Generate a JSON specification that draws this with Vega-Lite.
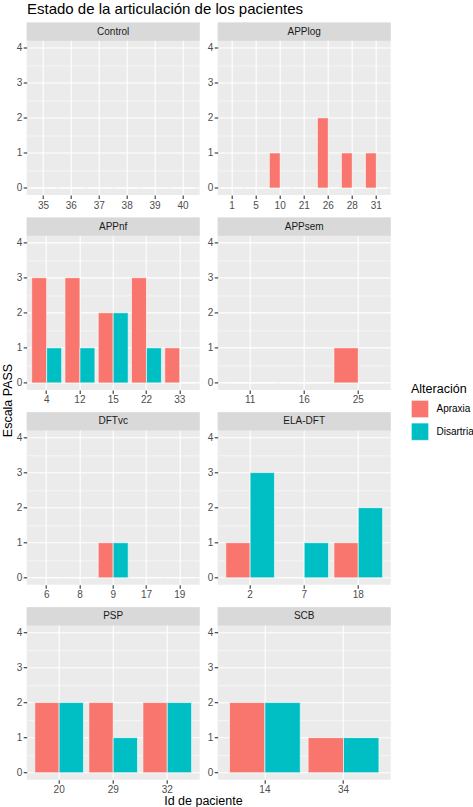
{
  "$schema": "https://vega.github.io/schema/vega-lite/v6.json",
  "padding": {"left": 2, "top": 1.5, "right": 0, "bottom": 0},
  "background": "white",
  "title": {
    "text": "Estado de la articulación de los pacientes",
    "anchor": "start",
    "frame": "group",
    "dx": 25,
    "offset": -6.8,
    "baseline": "alphabetic",
    "fontSize": 15,
    "fontWeight": "normal",
    "color": "black"
  },
  "datasets": {
    "pass": [
      {"grupo": "Control", "id": 35, "alteracion": "Apraxia", "valor": 0},
      {"grupo": "Control", "id": 35, "alteracion": "Disartria", "valor": 0},
      {"grupo": "Control", "id": 36, "alteracion": "Apraxia", "valor": 0},
      {"grupo": "Control", "id": 36, "alteracion": "Disartria", "valor": 0},
      {"grupo": "Control", "id": 37, "alteracion": "Apraxia", "valor": 0},
      {"grupo": "Control", "id": 37, "alteracion": "Disartria", "valor": 0},
      {"grupo": "Control", "id": 38, "alteracion": "Apraxia", "valor": 0},
      {"grupo": "Control", "id": 38, "alteracion": "Disartria", "valor": 0},
      {"grupo": "Control", "id": 39, "alteracion": "Apraxia", "valor": 0},
      {"grupo": "Control", "id": 39, "alteracion": "Disartria", "valor": 0},
      {"grupo": "Control", "id": 40, "alteracion": "Apraxia", "valor": 0},
      {"grupo": "Control", "id": 40, "alteracion": "Disartria", "valor": 0},
      {"grupo": "APPlog", "id": 1, "alteracion": "Apraxia", "valor": 0},
      {"grupo": "APPlog", "id": 1, "alteracion": "Disartria", "valor": 0},
      {"grupo": "APPlog", "id": 5, "alteracion": "Apraxia", "valor": 0},
      {"grupo": "APPlog", "id": 5, "alteracion": "Disartria", "valor": 0},
      {"grupo": "APPlog", "id": 10, "alteracion": "Apraxia", "valor": 1},
      {"grupo": "APPlog", "id": 10, "alteracion": "Disartria", "valor": 0},
      {"grupo": "APPlog", "id": 21, "alteracion": "Apraxia", "valor": 0},
      {"grupo": "APPlog", "id": 21, "alteracion": "Disartria", "valor": 0},
      {"grupo": "APPlog", "id": 26, "alteracion": "Apraxia", "valor": 2},
      {"grupo": "APPlog", "id": 26, "alteracion": "Disartria", "valor": 0},
      {"grupo": "APPlog", "id": 28, "alteracion": "Apraxia", "valor": 1},
      {"grupo": "APPlog", "id": 28, "alteracion": "Disartria", "valor": 0},
      {"grupo": "APPlog", "id": 31, "alteracion": "Apraxia", "valor": 1},
      {"grupo": "APPlog", "id": 31, "alteracion": "Disartria", "valor": 0},
      {"grupo": "APPnf", "id": 4, "alteracion": "Apraxia", "valor": 3},
      {"grupo": "APPnf", "id": 4, "alteracion": "Disartria", "valor": 1},
      {"grupo": "APPnf", "id": 12, "alteracion": "Apraxia", "valor": 3},
      {"grupo": "APPnf", "id": 12, "alteracion": "Disartria", "valor": 1},
      {"grupo": "APPnf", "id": 15, "alteracion": "Apraxia", "valor": 2},
      {"grupo": "APPnf", "id": 15, "alteracion": "Disartria", "valor": 2},
      {"grupo": "APPnf", "id": 22, "alteracion": "Apraxia", "valor": 3},
      {"grupo": "APPnf", "id": 22, "alteracion": "Disartria", "valor": 1},
      {"grupo": "APPnf", "id": 33, "alteracion": "Apraxia", "valor": 1},
      {"grupo": "APPnf", "id": 33, "alteracion": "Disartria", "valor": 0},
      {"grupo": "APPsem", "id": 11, "alteracion": "Apraxia", "valor": 0},
      {"grupo": "APPsem", "id": 11, "alteracion": "Disartria", "valor": 0},
      {"grupo": "APPsem", "id": 16, "alteracion": "Apraxia", "valor": 0},
      {"grupo": "APPsem", "id": 16, "alteracion": "Disartria", "valor": 0},
      {"grupo": "APPsem", "id": 25, "alteracion": "Apraxia", "valor": 1},
      {"grupo": "APPsem", "id": 25, "alteracion": "Disartria", "valor": 0},
      {"grupo": "DFTvc", "id": 6, "alteracion": "Apraxia", "valor": 0},
      {"grupo": "DFTvc", "id": 6, "alteracion": "Disartria", "valor": 0},
      {"grupo": "DFTvc", "id": 8, "alteracion": "Apraxia", "valor": 0},
      {"grupo": "DFTvc", "id": 8, "alteracion": "Disartria", "valor": 0},
      {"grupo": "DFTvc", "id": 9, "alteracion": "Apraxia", "valor": 1},
      {"grupo": "DFTvc", "id": 9, "alteracion": "Disartria", "valor": 1},
      {"grupo": "DFTvc", "id": 17, "alteracion": "Apraxia", "valor": 0},
      {"grupo": "DFTvc", "id": 17, "alteracion": "Disartria", "valor": 0},
      {"grupo": "DFTvc", "id": 19, "alteracion": "Apraxia", "valor": 0},
      {"grupo": "DFTvc", "id": 19, "alteracion": "Disartria", "valor": 0},
      {"grupo": "ELA-DFT", "id": 2, "alteracion": "Apraxia", "valor": 1},
      {"grupo": "ELA-DFT", "id": 2, "alteracion": "Disartria", "valor": 3},
      {"grupo": "ELA-DFT", "id": 7, "alteracion": "Apraxia", "valor": 0},
      {"grupo": "ELA-DFT", "id": 7, "alteracion": "Disartria", "valor": 1},
      {"grupo": "ELA-DFT", "id": 18, "alteracion": "Apraxia", "valor": 1},
      {"grupo": "ELA-DFT", "id": 18, "alteracion": "Disartria", "valor": 2},
      {"grupo": "PSP", "id": 20, "alteracion": "Apraxia", "valor": 2},
      {"grupo": "PSP", "id": 20, "alteracion": "Disartria", "valor": 2},
      {"grupo": "PSP", "id": 29, "alteracion": "Apraxia", "valor": 2},
      {"grupo": "PSP", "id": 29, "alteracion": "Disartria", "valor": 1},
      {"grupo": "PSP", "id": 32, "alteracion": "Apraxia", "valor": 2},
      {"grupo": "PSP", "id": 32, "alteracion": "Disartria", "valor": 2},
      {"grupo": "SCB", "id": 14, "alteracion": "Apraxia", "valor": 2},
      {"grupo": "SCB", "id": 14, "alteracion": "Disartria", "valor": 2},
      {"grupo": "SCB", "id": 34, "alteracion": "Apraxia", "valor": 1},
      {"grupo": "SCB", "id": 34, "alteracion": "Disartria", "valor": 1}
    ]
  },
  "data": {"name": "pass"},
  "spacing": 12.7,
  "bounds": "flush",
  "hconcat": [
    {
      "data": {"values": [{"t": "Escala PASS"}]},
      "width": 12,
      "height": 756,
      "view": {"stroke": null, "fill": null},
      "mark": {"type": "text", "angle": 270, "fontSize": 12.5, "color": "black", "align": "center", "baseline": "middle"},
      "encoding": {"text": {"field": "t", "type": "nominal"}}
    },
    {
      "title": {
        "text": "Id de paciente",
        "orient": "bottom",
        "anchor": "middle",
        "offset": 0,
        "fontSize": 12.5,
        "fontWeight": "normal",
        "color": "black"
      },
      "facet": {
        "field": "grupo",
        "type": "nominal",
        "sort": ["Control", "APPlog", "APPnf", "APPsem", "DFTvc", "ELA-DFT", "PSP", "SCB"],
        "header": {"labels": false, "title": null, "labelFontSize": 0, "labelPadding": 0, "labelExpr": "''"}
      },
      "columns": 2,
      "spacing": {"column": 18, "row": 21.9},
      "bounds": "flush",
      "spec": {
        "width": 173,
        "height": 172.5,
        "view": {"fill": "#EBEBEB", "stroke": null},
        "layer": [
          {
            "mark": {"type": "bar", "stroke": "white", "strokeWidth": 0.6},
            "encoding": {
              "x": {
                "field": "id",
                "type": "ordinal",
                "scale": {"paddingInner": 0, "paddingOuter": 0.1},
                "axis": {"title": null}
              },
              "xOffset": {
                "field": "alteracion",
                "type": "nominal",
                "scale": {"domain": ["Apraxia", "Disartria"], "paddingInner": 0, "paddingOuter": 0.111}
              },
              "y": {
                "field": "valor",
                "type": "quantitative",
                "scale": {"domain": [-0.2, 4.72], "nice": false, "zero": false},
                "axis": {"title": null, "values": [0, 1, 2, 3, 4]}
              },
              "color": {
                "field": "alteracion",
                "type": "nominal",
                "scale": {"domain": ["Apraxia", "Disartria"], "range": ["#F8766D", "#00BFC4"]},
                "legend": {
                  "title": "Alteración",
                  "orient": "none",
                  "legendX": 409,
                  "legendY": 360,
                  "symbolType": "square",
                  "symbolSize": 300,
                  "symbolStrokeColor": "white",
                  "symbolStrokeWidth": 0.6,
                  "symbolOpacity": 1,
                  "titleFontSize": 12.5,
                  "titleFontWeight": "normal",
                  "titleColor": "black",
                  "titlePadding": 5,
                  "labelFontSize": 10,
                  "labelColor": "black",
                  "labelOffset": 7.5,
                  "rowPadding": 2.7,
                  "padding": 0
                }
              }
            }
          },
          {
            "transform": [{"aggregate": [{"op": "count", "as": "n"}], "groupby": ["grupo"]}],
            "mark": {"type": "rect", "color": "#D9D9D9"},
            "encoding": {
              "y": {
                "datum": 4.2,
                "axis": {
                  "orient": "right",
                  "values": [0.5, 1.5, 2.5, 3.5],
                  "grid": true,
                  "gridWidth": 0.55,
                  "gridColor": "white",
                  "labels": false,
                  "ticks": false,
                  "domain": false,
                  "title": null
                }
              },
              "y2": {"datum": 4.72}
            }
          },
          {
            "transform": [{"aggregate": [{"op": "count", "as": "n"}], "groupby": ["grupo"]}],
            "mark": {"type": "text", "fontSize": 10, "color": "#1A1A1A", "baseline": "middle"},
            "encoding": {
              "y": {"datum": 4.46, "axis": null},
              "text": {"field": "grupo", "type": "nominal"}
            }
          }
        ],
        "resolve": {"axis": {"y": "independent"}}
      },
      "resolve": {
        "scale": {"x": "independent", "xOffset": "independent"},
        "axis": {"x": "independent", "y": "independent"}
      }
    }
  ],
  "config": {
    "font": "Liberation Sans",
    "view": {"stroke": null},
    "headerFacet": {"labels": false, "title": null, "labelPadding": 0},
    "axis": {
      "zindex": 0,
      "domain": false,
      "grid": true,
      "gridColor": "white",
      "gridWidth": 1.1,
      "ticks": true,
      "tickColor": "#333333",
      "tickWidth": 1.1,
      "tickSize": 3.5,
      "labelFontSize": 10,
      "labelColor": "#4D4D4D",
      "labelPadding": 2
    },
    "axisX": {"bandPosition": 0.5, "labelAngle": 0, "labelPadding": 1.5},
    "axisY": {"labelPadding": 1.5}
  }
}
